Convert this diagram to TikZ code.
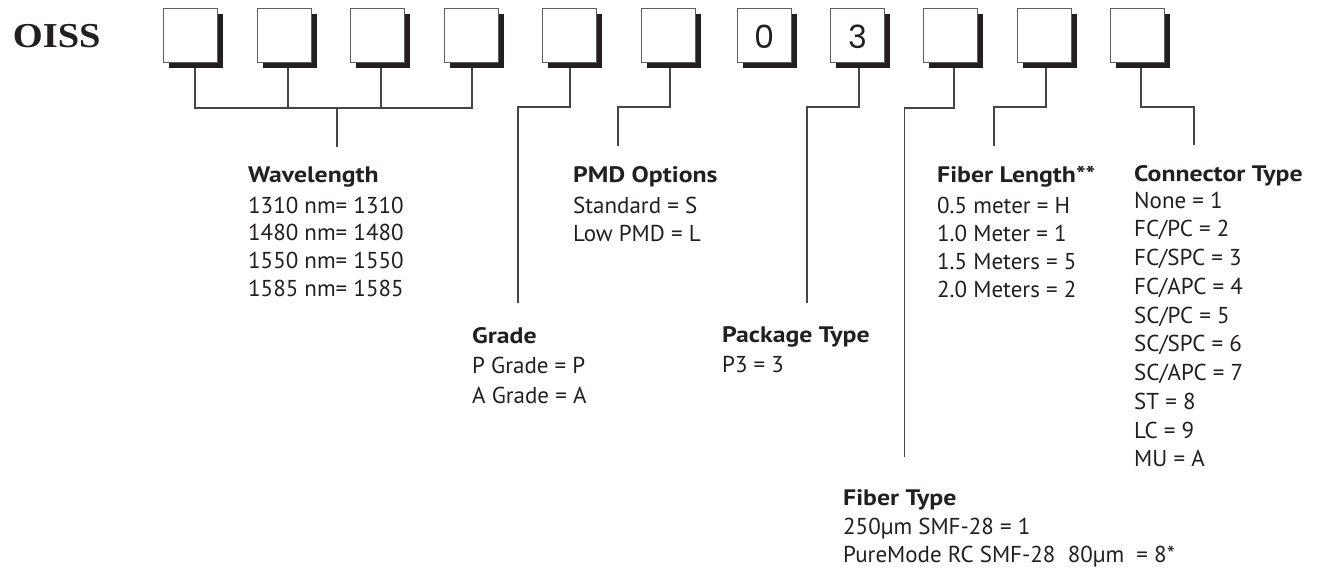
\documentclass[tikz,border=0pt]{standalone}
\usepackage{fontspec}
\setmainfont{PT Sans}
\newfontfamily\headfont[FakeStretch=1.15]{PT Sans}
\newfontfamily\digitfont{Poppins}
\newfontfamily\oissfont{Liberation Serif}
\usetikzlibrary{shadows}
\definecolor{ink}{RGB}{35,31,32}
\definecolor{boxc}{RGB}{95,95,95}
\definecolor{linec}{RGB}{70,70,70}
\tikzset{
  digitbox/.style={draw=boxc, line width=1pt, fill=white, minimum size=54pt, inner sep=0pt,
    drop shadow={shadow xshift=5.5pt, shadow yshift=-5.5pt, fill=ink, opacity=1}},
  conn/.style={draw=linec, line width=1.1pt},
  head/.style={anchor=base west, inner sep=0pt, text=ink, font=\headfont\fontsize{22.4}{26}\selectfont\bfseries},
  body/.style={anchor=base west, inner sep=0pt, text=ink, font=\fontsize{23}{27}\selectfont},
  digit/.style={anchor=base, inner sep=0pt, text=ink, font=\digitfont\fontsize{32}{36}\selectfont},
}
\begin{document}
\begin{tikzpicture}[x=1pt,y=-1pt]
\useasboundingbox[fill=white] (0,0) rectangle (1330,571);

\node[anchor=base west, inner sep=0pt, text=ink, font=\oissfont\bfseries\fontsize{35}{40}\selectfont] (oiss) at (12.7,47) {\scalebox{1.1}[1]{OISS}};

% boxes
\foreach \l [count=\i] in {163.3,257.3,350.7,444,542.3,641,737.3,830.7,923.7,1017.3,1110.7}
  \node[digitbox] (b\i) at ({\l+27},35.3) {};
\node[digit] (d7) at (764.3,48) {0};
\node[digit] (d8) at (857.7,48) {3};

% coordinates of connector ends
\coordinate (wlj) at (337,108);
\coordinate (wle) at (337,147);
\coordinate (grj) at (518,107);
\coordinate (gre) at (518,303);
\coordinate (pmj) at (618,107);
\coordinate (pme) at (618,146);
\coordinate (pkj) at (807,107);
\coordinate (pke) at (807,303);
\coordinate (ftj) at (904.5,108);
\coordinate (fte) at (904.5,457);
\coordinate (flj) at (994,107);
\coordinate (fle) at (994,146);
\coordinate (ctj) at (1194,107);
\coordinate (cte) at (1194,145);

% wavelength bracket
\draw[conn] ([xshift=4.7pt,yshift=-5.5pt]b1.south) |- (wlj) -| ([xshift=1pt,yshift=-5.5pt]b4.south);
\draw[conn] ([xshift=3.7pt,yshift=-5.5pt]b2.south) -- ([xshift=3.7pt]b2.south |- wlj);
\draw[conn] ([xshift=3.3pt,yshift=-5.5pt]b3.south) -- ([xshift=3.3pt]b3.south |- wlj);
\draw[conn] (wlj) -- (wle);
% others
\draw[conn] ([xshift=0.7pt,yshift=-5.5pt]b5.south) |- (grj) -- (gre);
\draw[conn] ([xshift=2pt,yshift=-5.5pt]b6.south) |- (pmj) -- (pme);
\draw[conn] ([xshift=1.3pt,yshift=-5.5pt]b8.south) |- (pkj) -- (pke);
\draw[conn] ([xshift=3.3pt,yshift=-5.5pt]b9.south) |- (ftj) -- (fte);
\draw[conn] ([xshift=1.7pt,yshift=-5.5pt]b10.south) |- (flj) -- (fle);
\draw[conn] ([xshift=3.3pt,yshift=-5.5pt]b11.south) |- (ctj) -- (cte);

% Wavelength
\node[head] (wlh) at (248,182) {Wavelength};
\foreach \t [count=\i] in {1310 nm= 1310, 1480 nm= 1480, 1550 nm= 1550, 1585 nm= 1585}
  \node[body] (wl\i) at (248,{185.3+27.7*\i}) {\t};

% PMD
\node[head] (pmh) at (573,182) {PMD Options};
\foreach \t [count=\i] in {Standard = S, Low PMD = L}
  \node[body] (pm\i) at (573,{185+28*\i}) {\t};

% Fiber Length
\node[head] (flh) at (937,182) {Fiber Length**};
\foreach \t [count=\i] in {0.5 meter = H, 1.0 Meter = 1, 1.5 Meters = 5, 2.0 Meters = 2}
  \node[body] (fl\i) at (937,{185+28*\i}) {\t};

% Connector Type
\node[head] (cth) at (1134,181) {Connector Type};
\foreach \t [count=\i] in {None = 1, FC/PC = 2, FC/SPC = 3, FC/APC = 4, SC/PC = 5, SC/SPC = 6, SC/APC = 7, ST = 8, LC = 9, MU = A}
  \node[body] (ct\i) at (1134,{179.25+28.75*\i}) {\t};

% Grade
\node[head] (grh) at (472,343) {Grade};
\foreach \t [count=\i] in {P Grade = P, A Grade = A}
  \node[body] (gr\i) at (472,{343+30*\i}) {\t};

% Package Type
\node[head] (pkh) at (722,342) {Package Type};
\node[body] (pk1) at (722,372) {P3 = 3};

% Fiber Type
\node[head] (fth) at (843,505) {Fiber Type};
\node[body] (ft1) at (843,534) {250µm SMF-28 = 1};
\node[body] (ft2) at (843,562) {PureMode RC SMF-28~ 80µm~ = 8*};
\end{tikzpicture}
\end{document}
